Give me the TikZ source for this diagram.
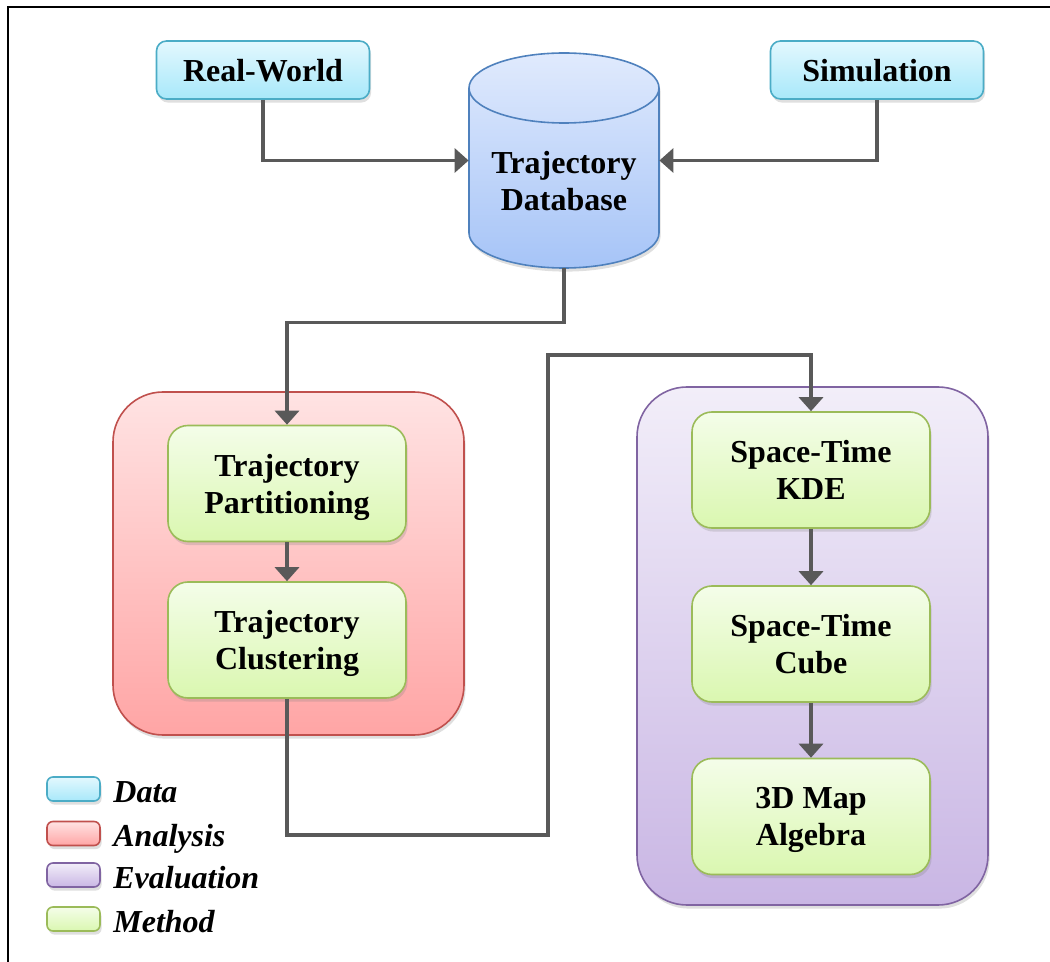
\documentclass[tikz,border=0pt]{standalone}
\usepackage{fontspec}
\setmainfont{Liberation Serif}
\usetikzlibrary{positioning,arrows.meta,shadows}

\definecolor{datatop}{HTML}{E3F8FE}
\definecolor{databot}{HTML}{A8E8FA}
\definecolor{dataline}{HTML}{4BACC6}
\definecolor{dbtop}{HTML}{E0EAFD}
\definecolor{dbbot}{HTML}{A6C4F7}
\definecolor{dbline}{HTML}{4F81BD}
\definecolor{anatop}{HTML}{FFE3E3}
\definecolor{anabot}{HTML}{FFA5A5}
\definecolor{analine}{HTML}{C0504D}
\definecolor{evaltop}{HTML}{F2EEF9}
\definecolor{evalbot}{HTML}{C9B6E4}
\definecolor{evalline}{HTML}{8064A2}
\definecolor{methtop}{HTML}{F4FDE9}
\definecolor{methbot}{HTML}{DAF7B0}
\definecolor{methline}{HTML}{9BBB59}
\definecolor{flowgray}{HTML}{595959}

\begin{document}
\begin{tikzpicture}[x=0.5pt, y=-0.5pt,
  box/.style={draw, rounded corners=5pt, line width=0.8pt, align=center, inner sep=0pt,
    text depth=0pt, font=\bfseries\fontsize{16}{18.5}\selectfont,
    drop shadow={shadow xshift=0.8pt, shadow yshift=-1.8pt, opacity=0.25}},
  databox/.style={box, top color=datatop, bottom color=databot, draw=dataline,
    minimum width=106.5pt, minimum height=29pt},
  methbox/.style={box, rounded corners=10pt, top color=methtop, bottom color=methbot,
    draw=methline, minimum width=119pt, minimum height=58pt},
  group/.style={box, rounded corners=25pt, minimum width=175.5pt},
  legbox/.style={box, rounded corners=3pt, minimum width=26.5pt, minimum height=12pt},
  flow/.style={draw=flowgray, line width=1.7pt, -{Triangle[length=7pt,width=12pt]}}]

  \useasboundingbox (0,0) rectangle (1050,962);
  \draw[line width=1.3pt] (8,962) -- (8,7) -- (1050,7);

  % Sources
  \node[databox] (rw) at (263,70) {Real-World};
  \node[databox] (sim) at (877,70) {Simulation};

  % Trajectory database (cylinder)
  \path[top color=dbtop, bottom color=dbbot, draw=dbline, line width=0.8pt,
        drop shadow={shadow xshift=0.8pt, shadow yshift=-1.8pt, opacity=0.25}]
    (469,88) -- (469,233) arc[start angle=180, end angle=360, x radius=47.5pt, y radius=17.5pt]
    -- (659,88) arc[start angle=0, end angle=180, x radius=47.5pt, y radius=17.5pt] -- cycle;
  \draw[dbline, line width=0.8pt] (469,88)
    arc[start angle=180, end angle=360, x radius=47.5pt, y radius=17.5pt];
  \node[inner sep=0pt, minimum width=95pt, minimum height=107.5pt] (db) at (564,160.5) {};
  \node[align=center, text depth=0pt, font=\bfseries\fontsize{16}{18.5}\selectfont] (dblabel)
    at (564,181) {Trajectory\\Database};

  % Analysis
  \node[group, top color=anatop, bottom color=anabot, draw=analine, minimum height=171.5pt]
    (analysis) at (288.5,563.5) {};
  \node[methbox] (tp) at (287,483.5) {Trajectory\\Partitioning};
  \node[methbox] (tc) at (287,640) {Trajectory\\Clustering};

  % Evaluation
  \node[group, top color=evaltop, bottom color=evalbot, draw=evalline, minimum height=259pt]
    (evaluation) at (812.5,646) {};
  \node[methbox] (kde) at (811,470) {Space-Time\\KDE};
  \node[methbox] (cube) at (811,644) {Space-Time\\Cube};
  \node[methbox] (map) at (811,816.5) {3D Map\\Algebra};

  % Connexions
  \coordinate (bend1) at (548,835);
  \coordinate (bend2) at (548,355);
  \draw[flow] (rw.south) |- (db.west);
  \draw[flow] (sim.south) |- (db.east);
  \draw[flow] (db.south) -- ++(0,54) -| (tp.north);
  \draw[flow] (tp) -- (tc);
  \draw[flow] (tc.south) |- (bend1) -- (bend2) -| (kde.north);
  \draw[flow] (kde) -- (cube);
  \draw[flow] (cube) -- (map);

  % Legend
  \foreach \yy/\col/\txt in {789/data/Data, 833.5/ana/Analysis, 875/eval/Evaluation, 919/meth/Method} {
    \node[legbox, top color=\col top, bottom color=\col bot, draw=\col line] (leg\col) at (73.5,\yy) {};
    \node[anchor=base west, inner sep=0pt, font=\bfseries\itshape\fontsize{16}{18.5}\selectfont]
      (leg\col txt) at (113,\yy+13) {\txt};
  }
\end{tikzpicture}
\end{document}
